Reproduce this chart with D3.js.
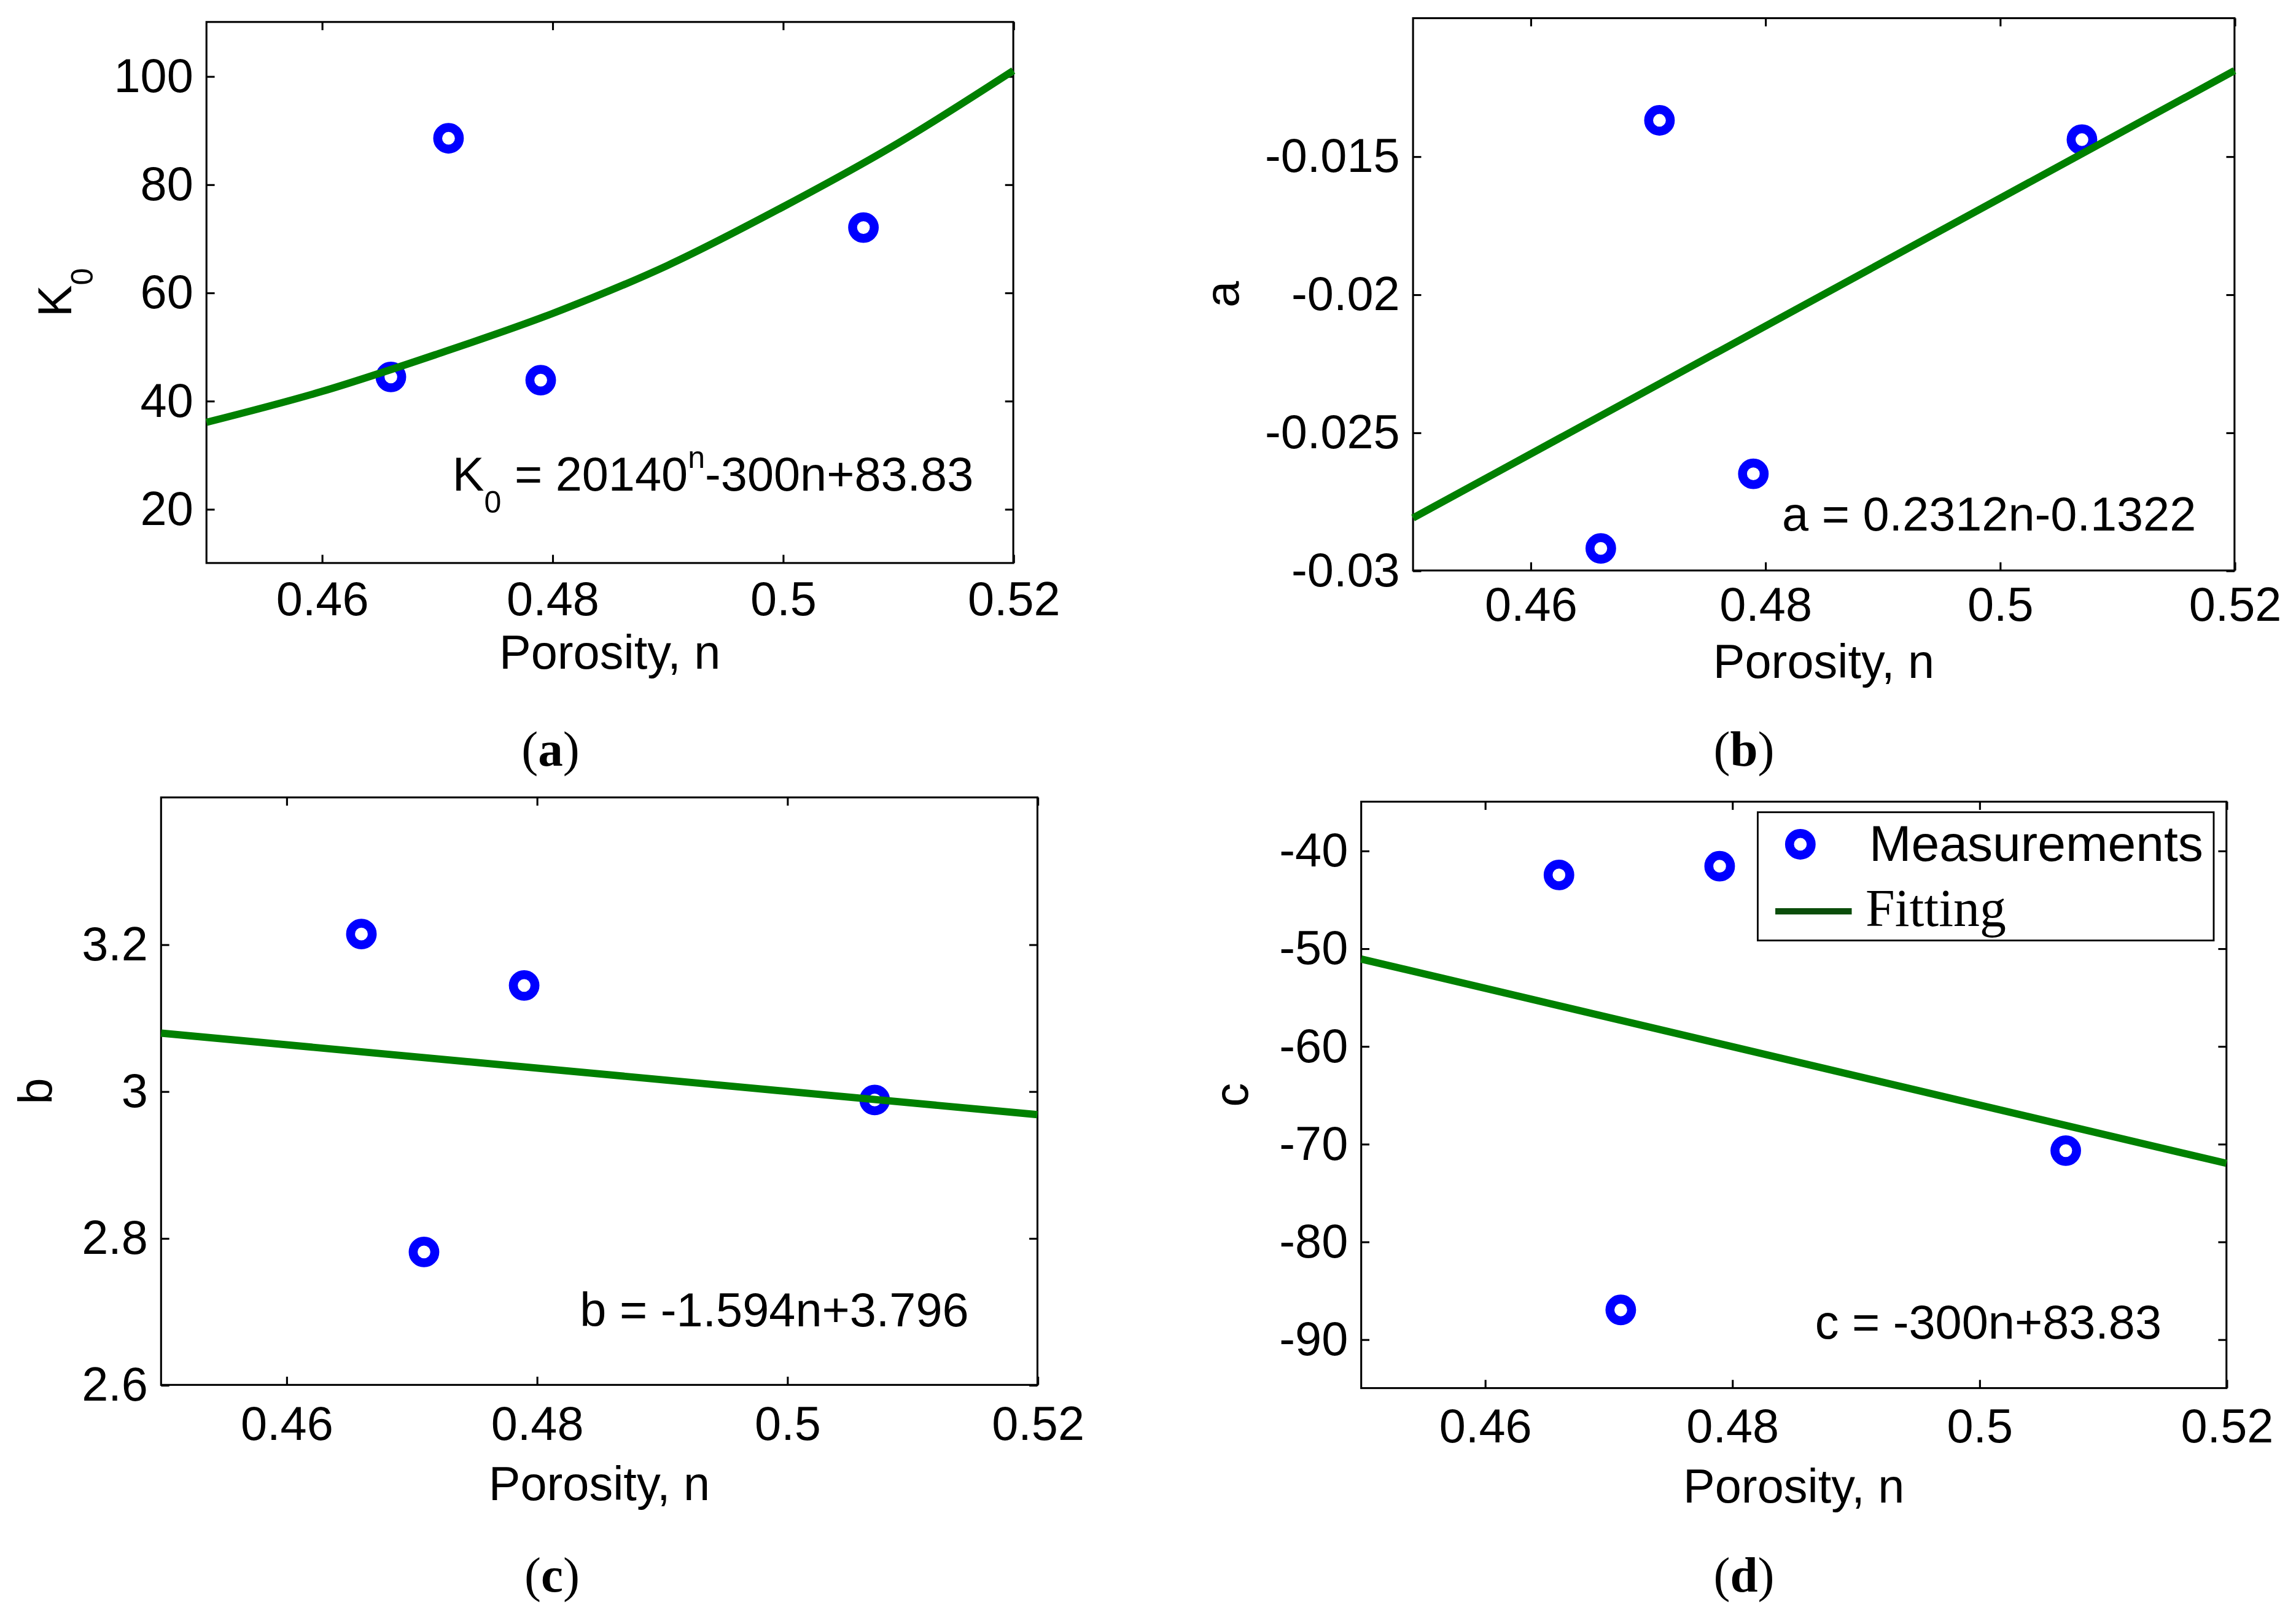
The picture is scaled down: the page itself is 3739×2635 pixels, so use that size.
<!DOCTYPE html>
<html>
<head>
<meta charset="utf-8">
<script src="https://cdn.jsdelivr.net/npm/d3@7"></script>
<style>
  body { margin: 0; background: #fff; }
  svg { display: block; }
  .tick text { font-family: "Liberation Sans", Arial, sans-serif; font-size: 32.5px; fill: #000; }
  .tick line { stroke: #000; stroke-width: 1.3; }
</style>
</head>
<body>
<main></main>
<script>
const porosity = [0.466, 0.471, 0.479, 0.507];
const K0Values = [44.4, 88.5, 43.8, 72.0];
const aValues = [-0.0292, -0.0137, -0.0265, -0.0144];
const bValues = [3.214, 2.781, 3.144, 2.988];
const cValues = [-42.5, -87.0, -41.6, -70.7];

// フィッティング曲線
const K0FitN = [0.45, 0.46, 0.47, 0.48, 0.49, 0.50, 0.51, 0.52];
const K0FitValues = [36.0, 41.7, 48.6, 56.1, 65.0, 75.8, 87.6, 101.0];
const lineFitN = [0.45, 0.52];
const aFitValues = [-0.0281, -0.0119];
const bFitValues = [3.079, 2.968];
const cFitValues = [-51.1, -72.0];

// 目盛り
const xTickValues = [0.46, 0.48, 0.5, 0.52];
const xTickLabels = ["0.46", "0.48", "0.5", "0.52"];
const K0TickValues = [20, 40, 60, 80, 100];
const K0TickLabels = ["20", "40", "60", "80", "100"];
const aTickValues = [-0.03, -0.025, -0.02, -0.015];
const aTickLabels = ["-0.03", "-0.025", "-0.02", "-0.015"];
const bTickValues = [2.6, 2.8, 3, 3.2];
const bTickLabels = ["2.6", "2.8", "3", "3.2"];
const cTickValues = [-90, -80, -70, -60, -50, -40];
const cTickLabels = ["-90", "-80", "-70", "-60", "-50", "-40"];

const legendLabels = ["Measurements", "Fitting"];

// SVG要素の設定（表示座標 1568x1105 を 3739x2635 に拡大）
const W = 1568, H = 1105;
const svg = d3.select("main").append("svg")
    .attr("width", 3739)
    .attr("height", 2635)
    .attr("viewBox", `0 0 ${W} ${H}`);

const sansFont = '"Liberation Sans", Arial, sans-serif';
const serifFont = '"Liberation Serif", "Times New Roman", serif';

// パネルごとのレイアウト
const panels = [
    {
        box: [141, 15, 692, 384.5], yDomain: [10, 110],
        yTicks: K0TickValues, yLabels: K0TickLabels,
        values: K0Values, fitN: K0FitN, fitValues: K0FitValues, curve: d3.curveCatmullRom,
        xPad: 12.5, xLabelY: 456.5,
        yLabel: [["K", 0], ["0", 1]], yLabelX: 48.5,
        note: [["K", 0], ["0", 1], [" = 20140", 0], ["n", -1], ["-300n+83.83", 0]], noteX: 309, noteY: 335,
        caption: "a", captionX: 376, captionY: 523
    },
    {
        box: [965, 12.4, 1526, 389.6], yDomain: [-0.03, -0.01],
        yTicks: aTickValues, yLabels: aTickLabels,
        values: aValues, fitN: lineFitN, fitValues: aFitValues, curve: d3.curveLinear,
        xPad: 11.5, xLabelY: 463,
        yLabel: [["a", 0]], yLabelX: 846,
        note: [["a = 0.2312n-0.1322", 0]], noteX: 1217, noteY: 362.5,
        caption: "b", captionX: 1191, captionY: 523
    },
    {
        box: [110, 544.6, 708.5, 945.8], yDomain: [2.6, 3.4],
        yTicks: bTickValues, yLabels: bTickLabels,
        values: bValues, fitN: lineFitN, fitValues: bFitValues, curve: d3.curveLinear,
        xPad: 14.5, xLabelY: 1024.3,
        yLabel: [["b", 0]], yLabelX: 35.6,
        note: [["b = -1.594n+3.796", 0]], noteX: 396, noteY: 906,
        caption: "c", captionX: 377, captionY: 1087
    },
    {
        box: [929.6, 547.5, 1520.5, 948], yDomain: [-95, -35],
        yTicks: cTickValues, yLabels: cTickLabels,
        values: cValues, fitN: lineFitN, fitValues: cFitValues, curve: d3.curveLinear,
        xPad: 14, xLabelY: 1026,
        yLabel: [["c", 0]], yLabelX: 852,
        note: [["c = -300n+83.83", 0]], noteX: 1239.5, noteY: 914,
        caption: "d", captionX: 1191, captionY: 1087,
        legend: true
    }
];

// 上付き・下付き文字付きのテキスト
function richText(sel, parts) {
    let cur = 0;
    parts.forEach(([t, s]) => {
        const off = s === 1 ? 15 : (s === -1 ? -15.5 : 0);
        sel.append("tspan")
            .attr("dy", off - cur)
            .attr("font-size", s === 0 ? 32.5 : 21)
            .text(t);
        cur = off;
    });
}

panels.forEach(p => {
    const [x0, y0, x1, y1] = p.box;
    const x = d3.scaleLinear().domain([0.45, 0.52]).range([x0, x1]);
    const y = d3.scaleLinear().domain(p.yDomain).range([y1, y0]);
    const g = svg.append("g");
    const tick = 5.6;

    // 軸（内向きの目盛り）
    g.append("g").attr("transform", `translate(0,${y1})`)
        .call(d3.axisBottom(x).tickValues(xTickValues)
            .tickFormat((d, i) => xTickLabels[i]).tickSizeInner(-tick).tickSizeOuter(0).tickPadding(p.xPad))
        .call(a => a.select(".domain").remove());
    g.append("g").attr("transform", `translate(0,${y0})`)
        .call(d3.axisTop(x).tickValues(xTickValues).tickFormat("").tickSizeInner(-tick).tickSizeOuter(0))
        .call(a => a.select(".domain").remove());
    g.append("g").attr("transform", `translate(${x0},0)`)
        .call(d3.axisLeft(y).tickValues(p.yTicks)
            .tickFormat((d, i) => p.yLabels[i]).tickSizeInner(-tick).tickSizeOuter(0).tickPadding(9))
        .call(a => a.select(".domain").remove());
    g.append("g").attr("transform", `translate(${x1},0)`)
        .call(d3.axisRight(y).tickValues(p.yTicks).tickFormat("").tickSizeInner(-tick).tickSizeOuter(0))
        .call(a => a.select(".domain").remove());

    g.selectAll(".tick text").attr("font-family", null);

    // 枠
    g.append("rect")
        .attr("x", x0).attr("y", y0)
        .attr("width", x1 - x0).attr("height", y1 - y0)
        .attr("fill", "none").attr("stroke", "#000").attr("stroke-width", 1.3);

    // 測定点
    g.append("g").selectAll("circle")
        .data(porosity.map((n, i) => [n, p.values[i]]))
        .enter().append("circle")
        .attr("cx", d => x(d[0]))
        .attr("cy", d => y(d[1]))
        .attr("r", 7.4)
        .attr("fill", "none")
        .attr("stroke", "#0000ff")
        .attr("stroke-width", 6.1);

    // フィッティング線
    const line = d3.line().x(d => x(d[0])).y(d => y(d[1])).curve(p.curve);
    g.append("path")
        .datum(p.fitN.map((n, i) => [n, p.fitValues[i]]))
        .attr("d", line)
        .attr("fill", "none")
        .attr("stroke", "#008000")
        .attr("stroke-width", 5);

    // 軸ラベル
    g.append("text")
        .attr("x", (x0 + x1) / 2).attr("y", p.xLabelY)
        .attr("text-anchor", "middle")
        .attr("font-family", sansFont).attr("font-size", 32.5)
        .text("Porosity, n");

    g.append("text")
        .attr("transform", `translate(${p.yLabelX},${(y0 + y1) / 2}) rotate(-90)`)
        .attr("text-anchor", "middle")
        .attr("font-family", sansFont).attr("font-size", 32.5)
        .call(richText, p.yLabel);

    // 近似式
    g.append("text")
        .attr("x", p.noteX).attr("y", p.noteY)
        .attr("font-family", sansFont).attr("font-size", 32.5)
        .call(richText, p.note);

    // キャプション
    const cap = g.append("text")
        .attr("x", p.captionX).attr("y", p.captionY)
        .attr("text-anchor", "middle")
        .attr("font-family", serifFont).attr("font-size", 34);
    cap.append("tspan").text("(");
    cap.append("tspan").attr("font-weight", "bold").text(p.caption);
    cap.append("tspan").text(")");

    // 凡例
    if (p.legend) {
        const lg = g.append("g");
        lg.append("rect")
            .attr("x", 1200.4).attr("y", 554.7)
            .attr("width", 311.4).attr("height", 87.6)
            .attr("fill", "#fff").attr("stroke", "#000").attr("stroke-width", 1.2);
        lg.append("circle")
            .attr("cx", 1229.5).attr("cy", 576.6).attr("r", 7.4)
            .attr("fill", "none").attr("stroke", "#0000ff").attr("stroke-width", 6.1);
        lg.append("text")
            .attr("x", 1276.5).attr("y", 587.8)
            .attr("font-family", sansFont).attr("font-size", 34.5)
            .text(legendLabels[0]);
        lg.append("line")
            .attr("x1", 1212.4).attr("x2", 1264.6)
            .attr("y1", 622.4).attr("y2", 622.4)
            .attr("stroke", "#0b4d0b").attr("stroke-width", 4.3);
        lg.append("text")
            .attr("x", 1274).attr("y", 632.5)
            .attr("font-family", serifFont).attr("font-size", 36)
            .text(legendLabels[1]);
    }
});
</script>
</body>
</html>
